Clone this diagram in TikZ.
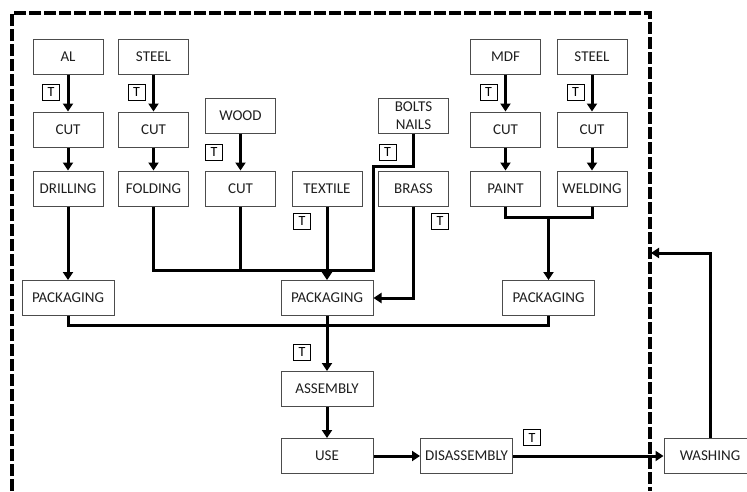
\documentclass[tikz,border=0pt]{standalone}
\usepackage{fontspec}
\setmainfont{Carlito}
\usetikzlibrary{arrows.meta}
\begin{document}
\begin{tikzpicture}[x=1pt,y=-1pt,
  box/.style={draw=black!70, line width=1pt, minimum width=70pt, minimum height=35pt,
    inner sep=0pt, font=\fontsize{15}{18}\selectfont, text=black!88, align=center},
  wbox/.style={box, minimum width=92pt},
  tbox/.style={draw=black, line width=0.9pt, minimum width=17pt, minimum height=16pt,
    inner sep=0pt, font=\fontsize{14}{14}\selectfont},
  flow/.style={line width=3pt, -{Triangle[length=8pt,width=10pt]}},
  link/.style={line width=3pt},
  frame/.style={line width=3.2pt, dash pattern=on 12pt off 3pt}]
\useasboundingbox (0,0) rectangle (747,491);
% dashed system boundary
\draw[frame] (12,491) -- (12,13) -- (650,13) -- (650,491);
\coordinate (fr) at (651,253);
% boxes
\node[box] (al) at (68,56.5) {AL};
\node[box] (st1) at (153.5,56.5) {STEEL};
\node[box] (cut1) at (68,129.5) {CUT};
\node[box] (cut2) at (153.5,129.5) {CUT};
\node[box] (dri) at (68,188.5) {DRILLING};
\node[box] (fol) at (153.5,188.5) {FOLDING};
\node[box] (wood) at (240.5,115.5) {WOOD};
\node[box] (cut3) at (240.5,188.5) {CUT};
\node[box] (tex) at (327,188.5) {TEXTILE};
\node[box] (bolts) at (413.5,115.5) {BOLTS\\NAILS};
\node[box] (brass) at (413.5,188.5) {BRASS};
\node[box] (mdf) at (505.5,56.5) {MDF};
\node[box] (st2) at (592,56.5) {STEEL};
\node[box] (cut4) at (505.5,129.5) {CUT};
\node[box] (cut5) at (592,129.5) {CUT};
\node[box] (paint) at (505.5,188.5) {PAINT};
\node[box] (weld) at (592,188.5) {WELDING};
\node[wbox] (pk1) at (68,298) {PACKAGING};
\node[wbox] (pk2) at (327,298) {PACKAGING};
\node[wbox] (pk3) at (548.5,298) {PACKAGING};
\node[wbox] (asm) at (327,389) {ASSEMBLY};
\node[wbox] (use) at (327,456) {USE};
\node[wbox] (dis) at (466.5,456) {DISASSEMBLY};
\node[wbox] (wash) at (710,456) {WASHING};
% T markers
\node[tbox] (t1) at (51,92) {T};
\node[tbox] (t2) at (136.5,92) {T};
\node[tbox] (t3) at (214,152.5) {T};
\node[tbox] (t4) at (302,221) {T};
\node[tbox] (t5) at (387.5,152) {T};
\node[tbox] (t6) at (440,221) {T};
\node[tbox] (t7) at (488.5,92) {T};
\node[tbox] (t8) at (575.5,92) {T};
\node[tbox] (t9) at (302,352) {T};
\node[tbox] (t10) at (532,437.5) {T};
% connectors
\draw[flow] (al) -- (cut1);
\draw[flow] (cut1) -- (dri);
\draw[flow] (st1) -- (cut2);
\draw[flow] (cut2) -- (fol);
\draw[flow] (wood) -- (cut3);
\draw[flow] (mdf) -- (cut4);
\draw[flow] (cut4) -- (paint);
\draw[flow] (st2) -- (cut5);
\draw[flow] (cut5) -- (weld);
\draw[flow] (dri) -- (pk1);
\coordinate (j1) at (373,166);
\coordinate (j2) at (373,270);
\draw[link] (bolts.south) |- (j1) -- (j2) -| (fol.south);
\draw[link] (cut3.south) -- (cut3.south |- j2);
\draw[flow] (tex) -- (pk2);
\draw[flow] (brass.south) |- (pk2.east);
\coordinate (pw) at (548.5,217);
\draw[link] (paint.south) |- (pw) -| (weld.south);
\draw[flow] (pw) -- (pk3.north);
\coordinate (bus) at (548.5,325);
\draw[link] (pk1.south) |- (bus) -- (pk3.south);
\draw[flow] (pk2) -- (asm);
\draw[flow] (asm) -- (use);
\draw[flow] (use) -- (dis);
\draw[flow] (dis) -- (wash);
\draw[flow] (wash.north) |- (fr);
\end{tikzpicture}
\end{document}
